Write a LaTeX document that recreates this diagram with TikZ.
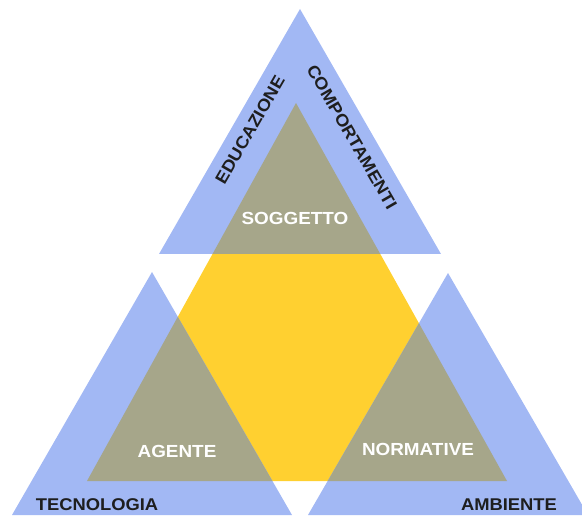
\documentclass[tikz,border=0pt]{standalone}
\usepackage{fontspec}
\setmainfont{Liberation Sans}
\usepackage{xcolor}
\usepackage{tikz}

\definecolor{triblue}{RGB}{162,184,244}
\definecolor{triyellow}{RGB}{255,208,48}
\definecolor{trigray}{RGB}{166,166,138}
\definecolor{labeldark}{RGB}{30,30,30}

\tikzset{
  outer/.style={font=\bfseries\fontsize{17}{17}\selectfont, text=labeldark, inner sep=0pt},
  inner/.style={font=\bfseries\fontsize{17.5}{17.5}\selectfont, text=white, inner sep=0pt}
}

\begin{document}
\begin{tikzpicture}[x=1pt,y=1pt]
\useasboundingbox (0,0) rectangle (582,515);

% Central triangle
\fill[triyellow] (296,412) -- (87,34) -- (507,34) -- cycle;

% Outer triangles
\fill[triblue] (300,506) -- (159,261) -- (441,261) -- cycle;
\fill[triblue] (152,243) -- (12,0) -- (292,0) -- cycle;
\fill[triblue] (448,242) -- (308,0) -- (588,0) -- cycle;

% Overlaps
\begin{scope}
\clip (296,412) -- (87,34) -- (507,34) -- cycle;
\fill[trigray] (300,506) -- (159,261) -- (441,261) -- cycle;
\fill[trigray] (152,243) -- (12,0) -- (292,0) -- cycle;
\fill[trigray] (448,242) -- (308,0) -- (588,0) -- cycle;
\end{scope}

% Labels
\node[outer, rotate=60, xscale=1.08] (educ) at (250,385) {EDUCAZIONE};
\node[outer, rotate=-60, xscale=1.08] (comp) at (352,378) {COMPORTAMENTI};
\node[outer, xscale=1.08] (tecn) at (97,10) {TECNOLOGIA};
\node[outer, xscale=1.08] (amb) at (509,10) {AMBIENTE};

\node[inner, xscale=1.08] (sogg) at (295,297) {SOGGETTO};
\node[inner, xscale=1.08] (agen) at (177,64) {AGENTE};
\node[inner, xscale=1.08] (norm) at (418,66) {NORMATIVE};
\end{tikzpicture}
\end{document}
